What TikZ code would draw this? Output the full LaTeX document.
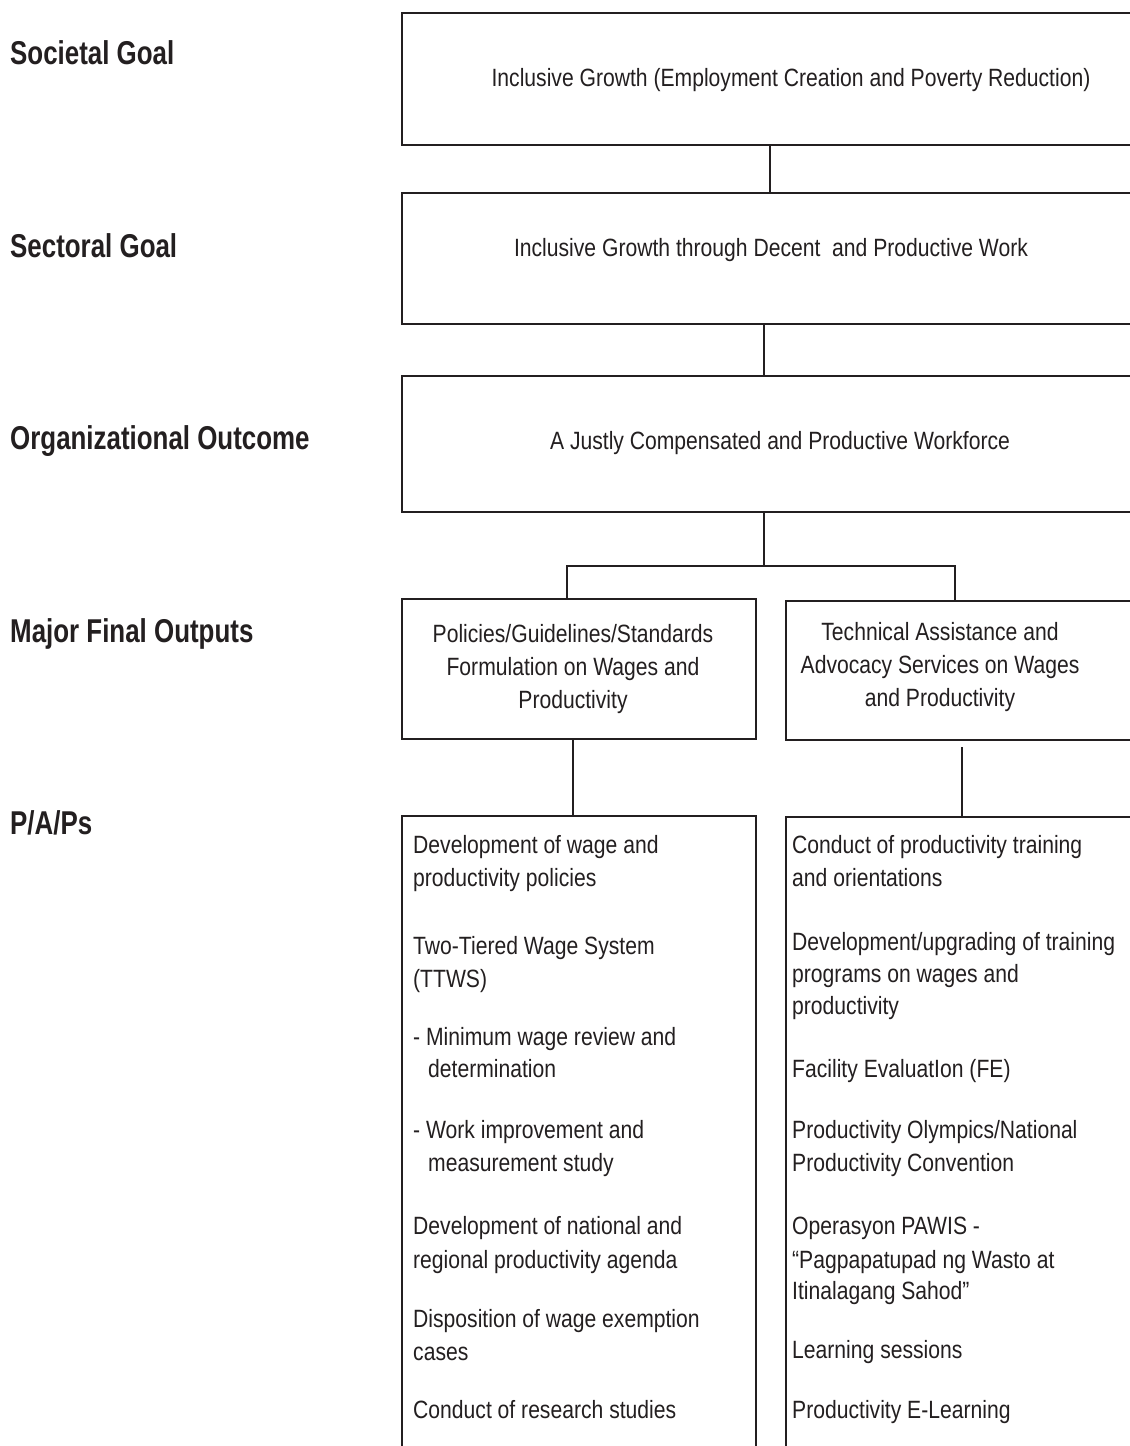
\documentclass[tikz,border=0pt]{standalone}
\usepackage{fontspec}
\setmainfont{Liberation Sans}[FakeStretch=0.845]
\newfontfamily\lblfont{Liberation Sans}[FakeStretch=0.785]
\definecolor{ink}{RGB}{35,31,32}
\begin{document}
\begin{tikzpicture}[x=1pt,y=-1pt,
  box/.style={draw=ink, line width=2.4pt, inner sep=0pt, anchor=north west},
  lbl/.style={font=\lblfont\bfseries\fontsize{33}{40}\selectfont, text=ink, anchor=base west, inner sep=0pt},
  btext/.style={font=\fontsize{25}{33}\selectfont, text=ink, align=center, inner sep=0pt},
  item/.style={font=\fontsize{25}{33}\selectfont, text=ink, anchor=base west, inner sep=0pt},
  conn/.style={draw=ink, line width=2.2pt}]
\useasboundingbox (0,0) rectangle (1130,1446);
\fill[white] (0,0) rectangle (1130,1446);
\clip (0,0) rectangle (1130,1446);

% left labels
\node[lbl] (l1) at (10,64) {Societal Goal};
\node[lbl] (l2) at (10,257) {Sectoral Goal};
\node[lbl] (l3) at (10,449) {Organizational Outcome};
\node[lbl] (l4) at (10,642) {Major Final Outputs};
\node[lbl] (l5) at (10,834) {P/A/Ps};

% boxes
\node[box, minimum width=759pt, minimum height=132pt] (b1) at (401,12) {};
\node[box, minimum width=759pt, minimum height=131pt] (b2) at (401,192) {};
\node[box, minimum width=759pt, minimum height=136pt] (b3) at (401,375) {};
\node[box, minimum width=354pt, minimum height=140pt] (b4a) at (401,598) {};
\node[box, minimum width=375pt, minimum height=139pt] (b4b) at (785,600) {};
\node[box, minimum width=354pt, minimum height=700pt] (b5a) at (401,815) {};
\node[box, minimum width=375pt, minimum height=700pt] (b5b) at (785,816) {};

% box texts
\node[btext, anchor=base] (t1) at (791,86) {Inclusive Growth (Employment Creation and Poverty Reduction)};
\node[btext, anchor=base] (t2) at (771,256) {Inclusive Growth through Decent\ \ and Productive Work};
\node[btext, anchor=base] (t3) at (780,449) {A Justly Compensated and Productive Workforce};
\node[btext] (t4a) at (573,669) {Policies/Guidelines/Standards\\Formulation on Wages and\\Productivity};
\node[btext] (t4b) at (940,667) {Technical Assistance and\\Advocacy Services on Wages\\and Productivity};

% connectors
\coordinate (c1) at (770,0);
\coordinate (c2) at (764,0);
\coordinate (jl) at (567,566);
\coordinate (jm) at (764,566);
\coordinate (jr) at (955,566);
\coordinate (c4a) at (573,0);
\coordinate (c4b) at (962,0);
\draw[conn] (b1.south -| c1) -- (b2.north -| c1);
\draw[conn] (b2.south -| c2) -- (b3.north -| c2);
\draw[conn] (b3.south -| c2) -- (jm);
\draw[conn] (b4a.north -| jl) -- (jl) -- (jr) -- (b4b.north -| jr);
\draw[conn] (b4a.south -| c4a) -- (b5a.north -| c4a);
\draw[conn] ([yshift=-6pt]b4b.south -| c4b) -- (b5b.north -| c4b);

% left list
\foreach \yy/\tt [count=\i] in {
  853/{Development of wage and},
  886/{productivity policies},
  954/{Two-Tiered Wage System},
  987/{(TTWS)},
  1045/{- Minimum wage review and},
  1138/{- Work improvement and},
  1234/{Development of national and},
  1268/{regional productivity agenda},
  1327/{Disposition of wage exemption},
  1360/{cases},
  1418/{Conduct of research studies}}
  \node[item] (a\i) at (413,\yy) {\tt};
\node[item] (a12) at (428,1077) {determination};
\node[item] (a13) at (428,1171) {measurement study};

% right list
\foreach \yy/\tt [count=\i] in {
  853/{Conduct of productivity training},
  886/{and orientations},
  950/{Development/upgrading of training},
  982/{programs on wages and},
  1014/{productivity},
  1077/{Facility EvaluatIon (FE)},
  1138/{Productivity Olympics/National},
  1171/{Productivity Convention},
  1234/{Operasyon PAWIS -},
  1268/{“Pagpapatupad ng Wasto at},
  1299/{Itinalagang Sahod”},
  1358/{Learning sessions},
  1418/{Productivity E-Learning}}
  \node[item] (r\i) at (792,\yy) {\tt};
\end{tikzpicture}
\end{document}
